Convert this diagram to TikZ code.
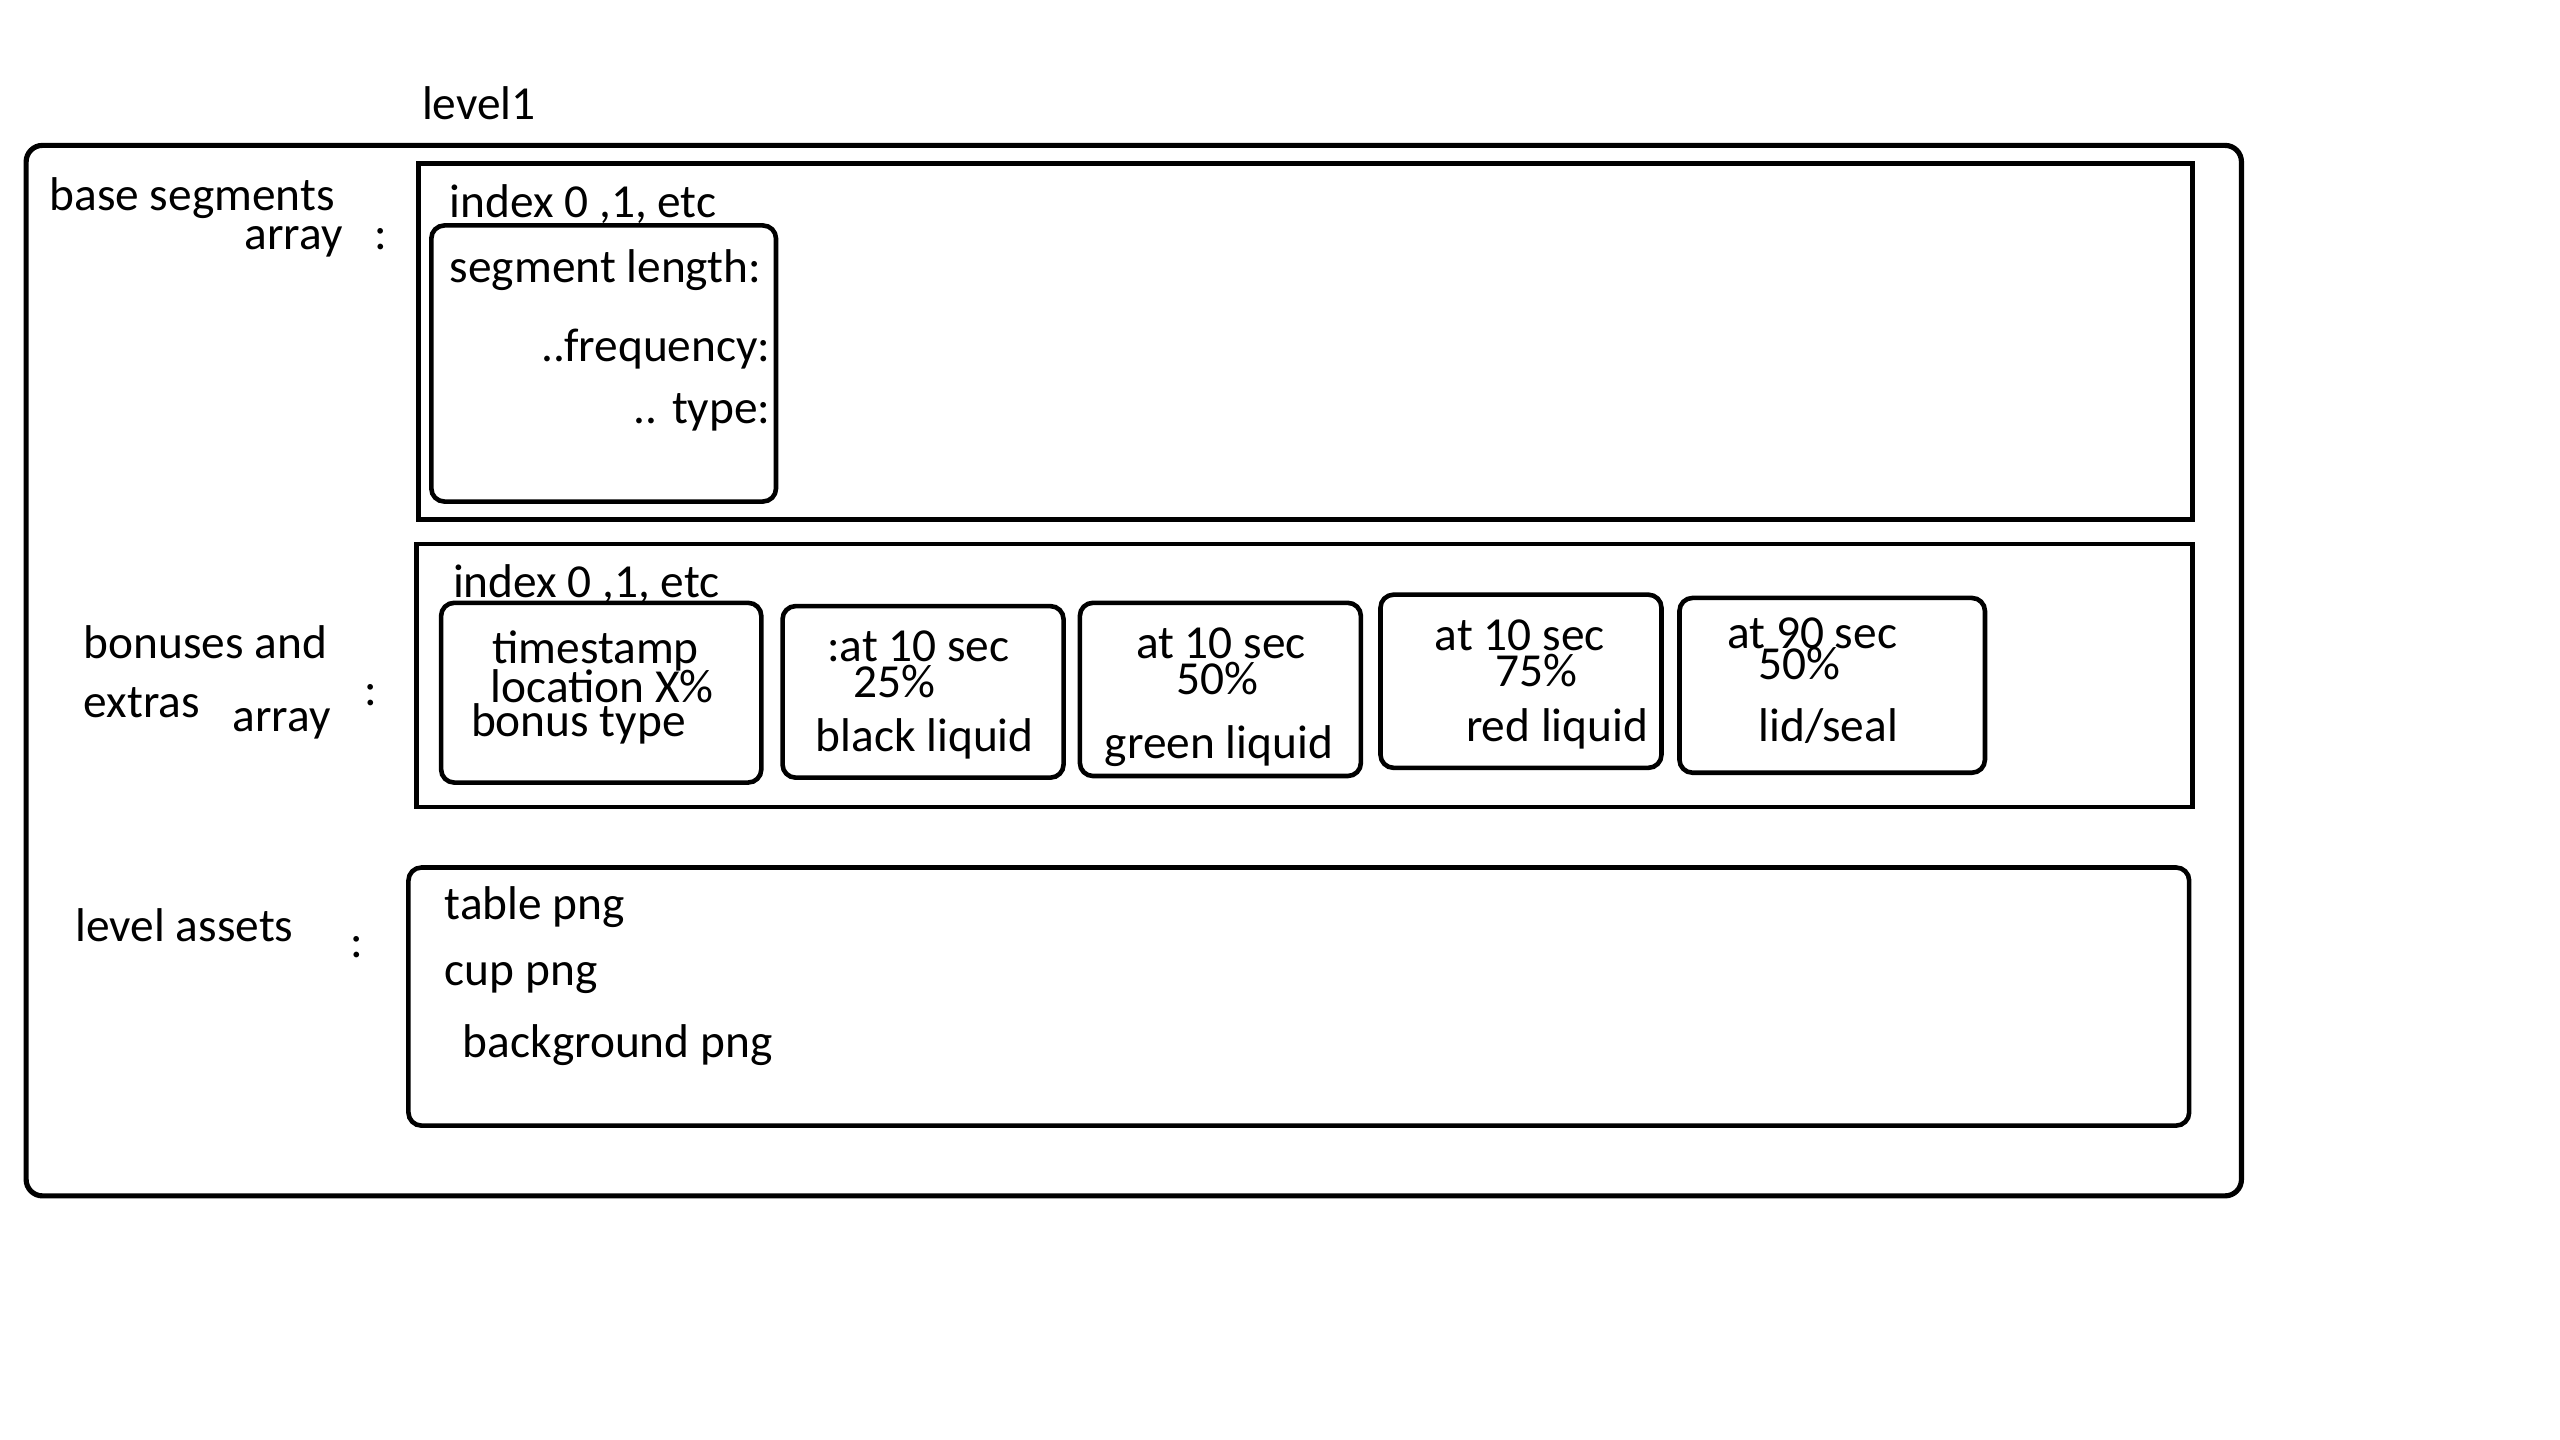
\documentclass[tikz,border=0pt]{standalone}
\usepackage{fontspec}
\setmainfont{Carlito}
\begin{document}
\begin{tikzpicture}[x=0.02cm,y=-0.02cm,
  lbl/.style={inner sep=0pt,font=\fontsize{16.5}{20}\selectfont},
  outerbox/.style={draw=black,line width=1.8pt,rounded corners=0.2cm},
  sqbox/.style={draw=black,line width=1.7pt},
  rbox/.style={draw=black,line width=1.6pt,rounded corners=0.16cm}]
\useasboundingbox[fill=white] (0,0) rectangle (1567,881.4);
% title
\node[lbl,anchor=base west] (title) at (258,73) {level1};
% outer box
\draw[outerbox] (16,89) rectangle (1372,732);
% base segments
\node[lbl,anchor=base west] (bs1) at (30,129) {base segments};
\node[lbl,anchor=base east] (bs2) at (210,153) {array};
\node[lbl,anchor=base west] (bs3) at (229,153) {:};
\draw[sqbox] (256,100) rectangle (1342,318);
\node[lbl,anchor=base west] (idx1) at (275,133) {index 0 ,1, etc};
\draw[rbox] (264,138) rectangle (475,307);
\node[lbl,anchor=base west] (seglen) at (275,173) {segment length:};
\node[lbl,anchor=base east] (freq) at (472,221) {..frequency:};
\node[lbl,anchor=base east] (type) at (472,259) {.. type:};
% bonuses
\node[lbl,anchor=base west] (bo1) at (51,403) {bonuses and};
\node[lbl,anchor=base west] (bo2) at (51,439) {extras};
\node[lbl,anchor=base west] (bo3) at (142,448) {array};
\node[lbl,anchor=base west] (bo4) at (223,432) {:};
\draw[sqbox] (255,333) rectangle (1342,494);
\node[lbl,anchor=base west] (idx2) at (277,366) {index 0 ,1, etc};
% bonus cards
\draw[rbox] (270,369) rectangle (466,479);
\node[lbl,anchor=base west] (c1a) at (301,406) {timestamp};
\node[lbl,anchor=base west] (c1b) at (300,430) {location X\%};
\node[lbl,anchor=base west] (c1c) at (288,451) {bonus type};
\draw[rbox] (479,371) rectangle (651,476);
\node[lbl,anchor=base west] (c2a) at (506,405) {:at 10 sec};
\node[lbl,anchor=base west] (c2b) at (522,427) {25\%};
\node[lbl,anchor=base west] (c2c) at (499,460) {black liquid};
\draw[rbox] (661,369) rectangle (833,475);
\node[lbl,anchor=base west] (c3a) at (695,403) {at 10 sec};
\node[lbl,anchor=base west] (c3b) at (720,425) {50\%};
\node[lbl,anchor=base west] (c3c) at (676,464) {green liquid};
\draw[rbox] (845,364) rectangle (1017,470);
\node[lbl,anchor=base west] (c4a) at (878,398) {at 10 sec};
\node[lbl,anchor=base west] (c4b) at (915,420) {75\%};
\node[lbl,anchor=base west] (c4c) at (897,454) {red liquid};
\draw[rbox] (1028,366) rectangle (1215,473);
\node[lbl,anchor=base west] (c5a) at (1057,397) {at 90 sec};
\node[lbl,anchor=base west] (c5b) at (1076,416) {50\%};
\node[lbl,anchor=base west] (c5c) at (1076,454) {lid/seal};
% level assets
\node[lbl,anchor=base west] (la1) at (46,576) {level assets};
\node[lbl,anchor=base west] (la2) at (214,586) {:};
\draw[rbox] (250,531) rectangle (1340,689);
\node[lbl,anchor=base west] (a1) at (272,563) {table png};
\node[lbl,anchor=base west] (a2) at (272,603) {cup png};
\node[lbl,anchor=base west] (a3) at (283,647) {background png};
\end{tikzpicture}
\end{document}
